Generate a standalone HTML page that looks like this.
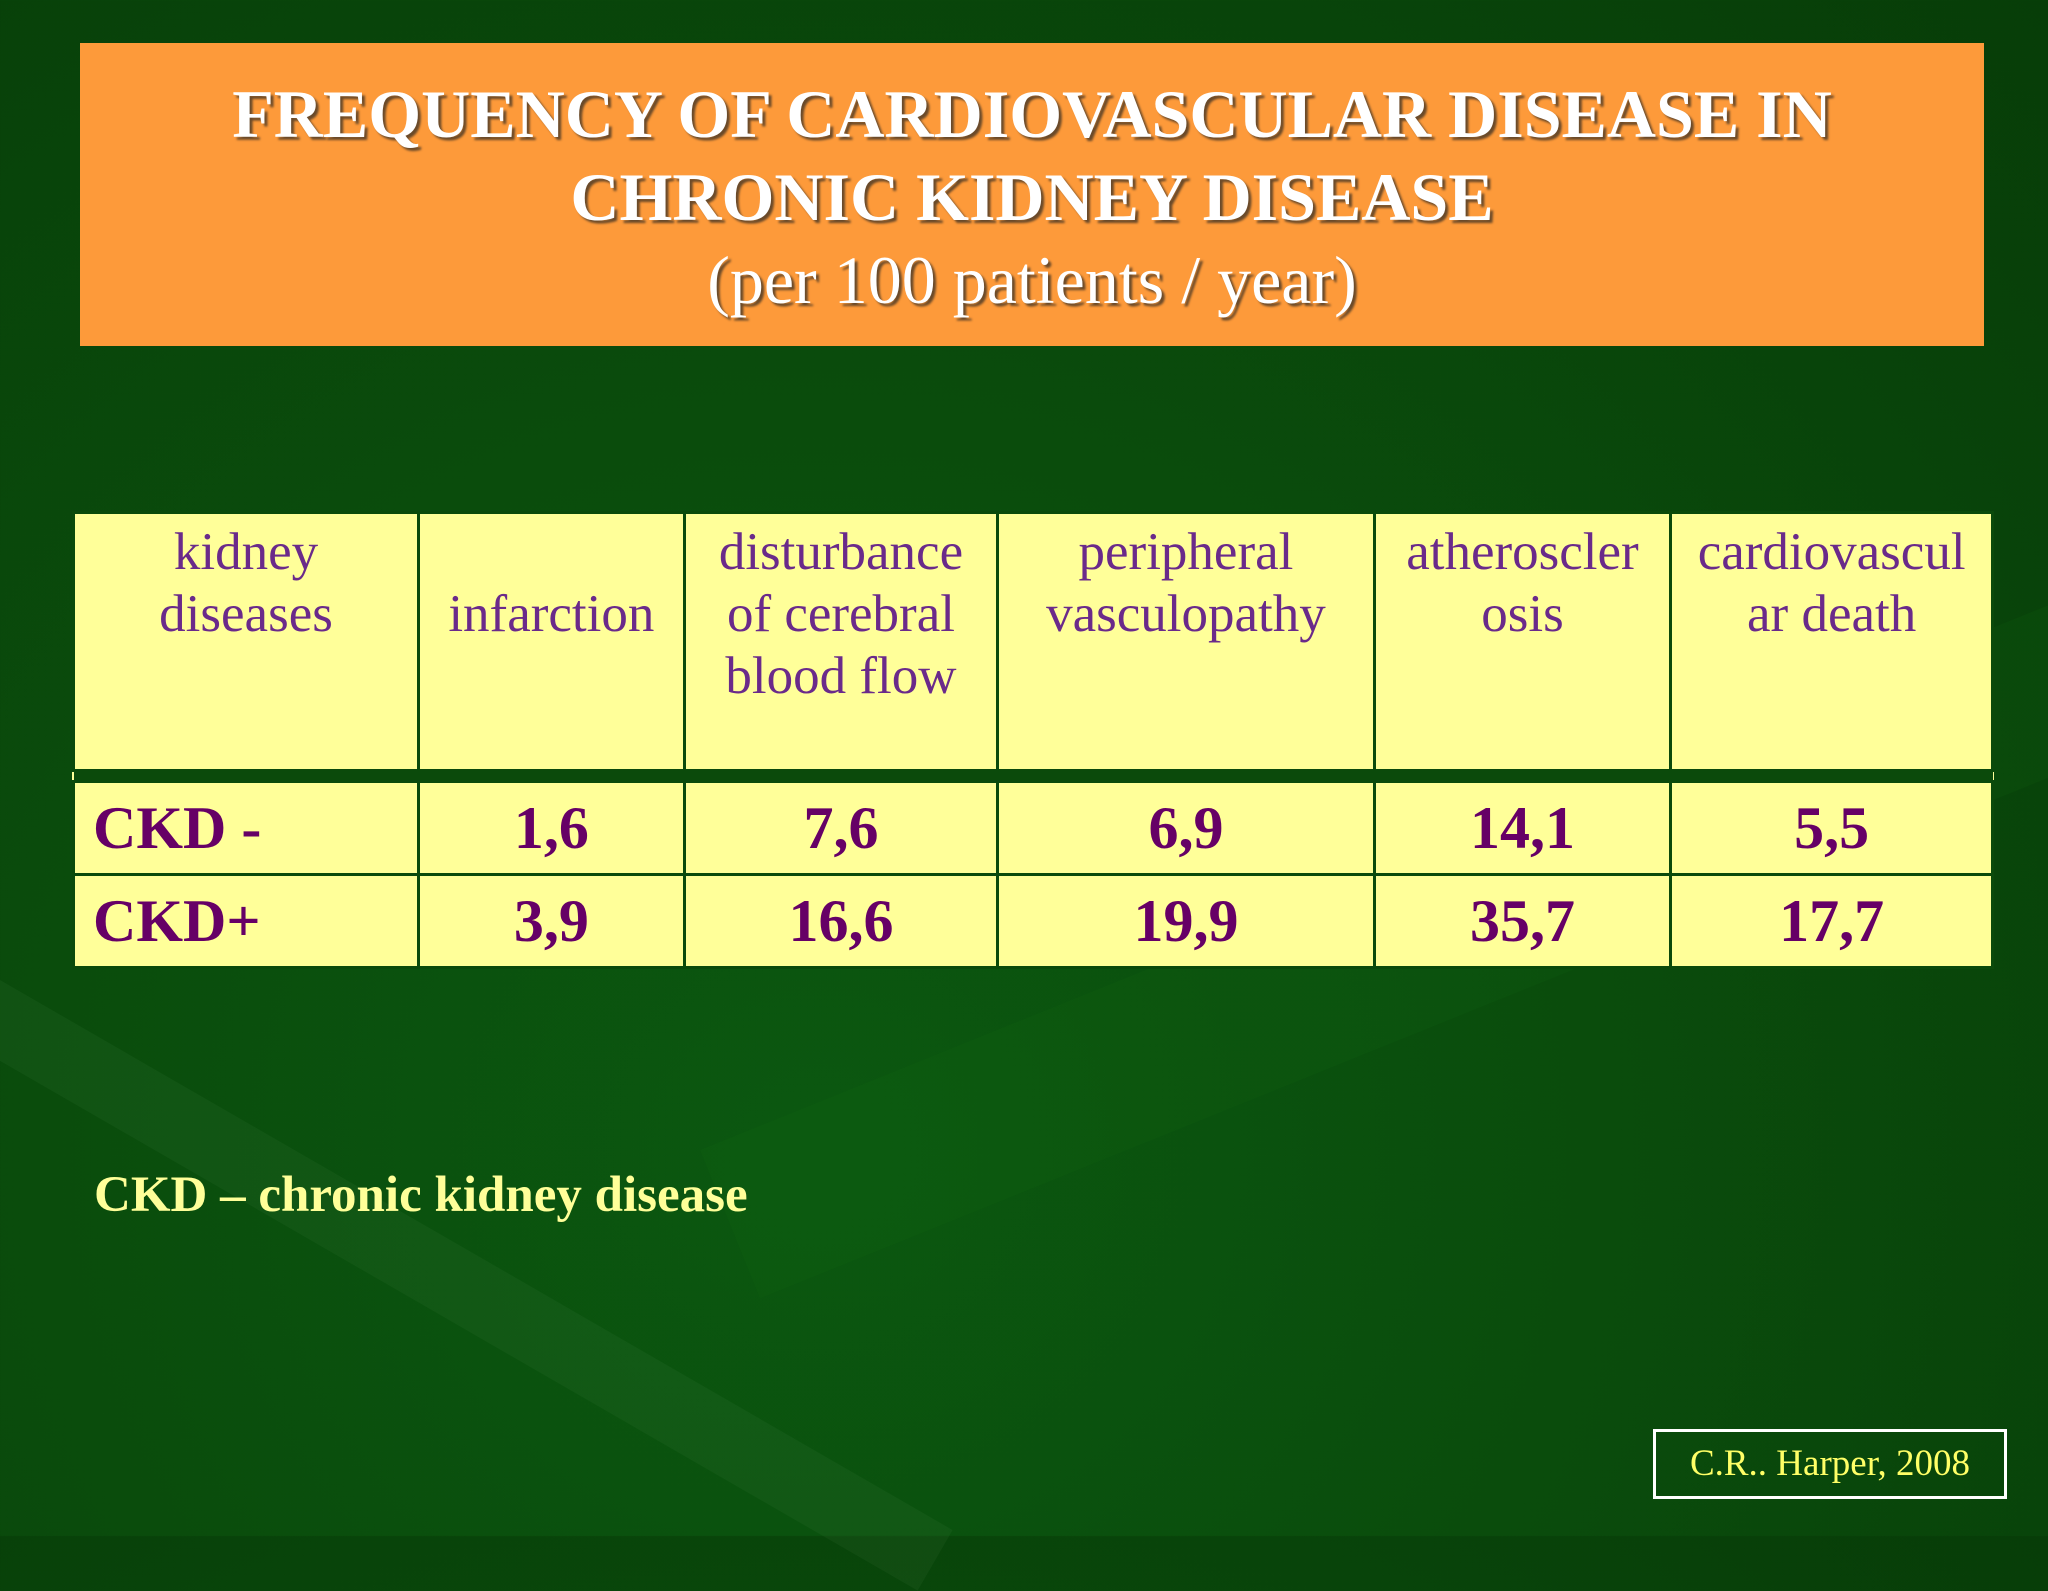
<!DOCTYPE html>
<html><head><meta charset="utf-8"><style>
html,body{margin:0;padding:0}
body{width:2048px;height:1536px;position:relative;overflow:hidden;font-family:"Liberation Serif",serif;
background:radial-gradient(ellipse at 40% 75%,#0b5810 0%,#0a4c0c 45%,#073d08 100%);}
.abs{position:absolute}
#title{left:80px;top:43px;width:1904px;height:303px;background:#fd9a3a;color:#fff;text-align:center;font-weight:bold;font-size:68px;line-height:83px;box-sizing:border-box;padding-top:30px;text-shadow:3px 3px 2px #6a4a2a}
#title .sub{font-weight:normal;}
table{position:absolute;left:72px;top:511px;width:1922px;border-collapse:collapse;background:#ffff99}
td{border:3px solid #0b4a0b;text-align:center;padding:0}
tr.h td{height:258px;vertical-align:top;color:#6a2a8a;font-size:53px;line-height:62px;padding-top:7px;box-sizing:border-box}
tr.sep td{height:8px;background:#0b4a0b;border:none}
tr.r td{height:90px;color:#660066;font-weight:bold;font-size:60px}
tr.r td.l{text-align:left;padding-left:18px}
#note{left:94px;top:1166px;color:#ffff99;font-size:51px;font-weight:bold}
#cite{left:1653px;top:1429px;width:354px;height:70px;border:3px solid #fff;box-sizing:border-box;color:#ffff66;font-size:37px;text-align:center;line-height:64px}
</style></head><body>
<div class="abs" style="left:0;top:980px;width:1100px;height:70px;background:rgba(90,150,90,0.10);transform:rotate(30deg);transform-origin:0 0"></div>
<div class="abs" style="left:700px;top:1150px;width:1500px;height:160px;background:rgba(20,110,20,0.15);transform:rotate(-22deg);transform-origin:0 0"></div>
<div id="title" class="abs">FREQUENCY OF CARDIOVASCULAR DISEASE IN<br>CHRONIC KIDNEY DISEASE<br><span class="sub">(per 100 patients / year)</span></div>
<table>
<colgroup><col style="width:346px"><col style="width:266px"><col style="width:314px"><col style="width:377px"><col style="width:297px"><col style="width:322px"></colgroup>
<tr class="h">
<td>kidney<br>diseases</td>
<td><br>infarction</td>
<td>disturbance<br>of cerebral<br>blood flow</td>
<td>peripheral<br>vasculopathy</td>
<td>atheroscler<br>osis</td>
<td>cardiovascul<br>ar death</td>
</tr>
<tr class="sep"><td colspan="6"></td></tr>
<tr class="r">
<td class="l">CKD -</td><td>1,6</td><td>7,6</td><td>6,9</td><td>14,1</td><td>5,5</td></tr>
<tr class="r">
<td class="l">CKD+</td><td>3,9</td><td>16,6</td><td>19,9</td><td>35,7</td><td>17,7</td></tr>
</table>
<div id="note" class="abs">CKD – chronic kidney disease</div>
<div id="cite" class="abs">C.R.. Harper, 2008</div>
</body></html>
